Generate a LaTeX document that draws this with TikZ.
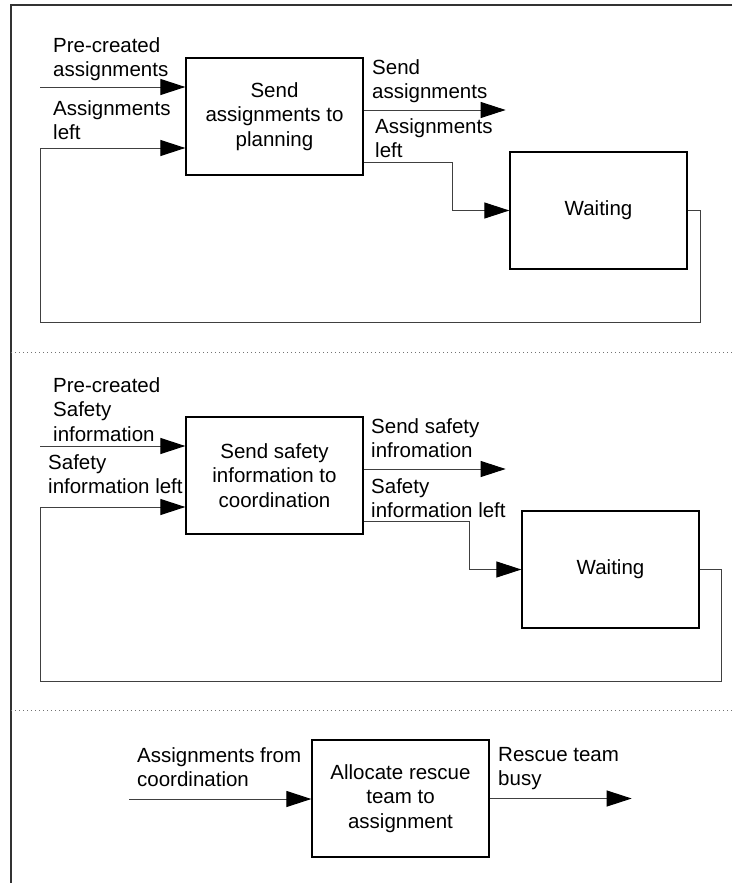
\documentclass[tikz,border=0pt]{standalone}
\usepackage{fontspec}
\setmainfont{Liberation Sans}
\usetikzlibrary{arrows.meta,calc}
\begin{document}
\begin{tikzpicture}[x=1pt,y=-1pt,
  every node/.style={font=\fontsize{20.5}{24.5}\selectfont},
  proc/.style={draw=black,line width=1.3pt,fill=white,minimum width=177pt,minimum height=117pt,align=center,inner sep=0pt},
  lbl/.style={anchor=north west,align=left,inner sep=0pt},
  flow/.style={draw=black!75,line width=1pt},
  arr/.style={flow,-{Triangle[length=25pt,width=16pt,color=black]}},
  frame/.style={draw=black!80,line width=1.5pt},
  divider/.style={draw=black!55,line width=1pt,dash pattern=on 1pt off 3pt}]
\useasboundingbox (0,0) rectangle (732,883);

% outer frame (top and left edges)
\coordinate (ftl) at (11,5);
\coordinate (ftr) at (732,5);
\coordinate (fbl) at (11,883);
\draw[frame] (ftr) -- (ftl) -- (fbl);

% section dividers
\coordinate (d1a) at (11,352); \coordinate (d1b) at (732,352);
\coordinate (d2a) at (11,710); \coordinate (d2b) at (732,710);
\draw[divider] (d1a) -- (d1b);
\draw[divider] (d2a) -- (d2b);

% ---------- section 1 ----------
\node[proc] (B1) at (274.5,116.5) {Send\\assignments to\\planning};
\node[proc] (W1) at (598.5,210.5) {Waiting};
\coordinate (in1) at (40,87);
\coordinate (k1) at (452,162);
\coordinate (r1) at (700,322);
\coordinate (l1) at (40,322);
\draw[arr] (in1) -- (B1.west |- in1);
\draw[arr] ($(B1.east)+(0,-6.5)$) -- ++(142,0);
\draw[arr] ($(B1.east)+(0,45.5)$) -- (k1) |- (W1.west);
\draw[arr] (W1.east) -| (r1) -- (l1) |- ($(B1.west)+(0,31.5)$);

\node[lbl] (t1a) at (53,37) {Pre-created\\assignments};
\node[lbl] (t1b) at (53,100) {Assignments\\left};
\node[lbl] (t1c) at (372,59) {Send\\assignments};
\node[lbl] (t1d) at (375,118) {Assignments\\left};

% ---------- section 2 ----------
\node[proc] (B2) at (274.5,475.5) {Send safety\\information to\\coordination};
\node[proc] (W2) at (610.5,569.5) {Waiting};
\coordinate (in2) at (40,446);
\coordinate (k2) at (469,521);
\coordinate (r2) at (721,681);
\coordinate (l2) at (40,681);
\draw[arr] (in2) -- (B2.west |- in2);
\draw[arr] ($(B2.east)+(0,-6.5)$) -- ++(142,0);
\draw[arr] ($(B2.east)+(0,45.5)$) -- (k2) |- (W2.west);
\draw[arr] (W2.east) -| (r2) -- (l2) |- ($(B2.west)+(0,31.5)$);

\node[lbl] (t2a) at (53,377) {Pre-created\\Safety\\information};
\node[lbl] (t2b) at (48,454) {Safety\\information left};
\node[lbl] (t2c) at (371,418) {Send safety\\infromation};
\node[lbl] (t2d) at (371,478) {Safety\\information left};

% ---------- section 3 ----------
\node[proc] (B3) at (400.5,798.5) {Allocate rescue\\team to\\assignment};
\coordinate (in3) at (129,799);
\draw[arr] (in3) -- (B3.west |- in3);
\draw[arr] (B3.east) -- ++(142,0);

\node[lbl] (t3a) at (137,747) {Assignments from\\coordination};
\node[lbl] (t3b) at (498,747) {Rescue team\\busy};
\end{tikzpicture}
\end{document}
